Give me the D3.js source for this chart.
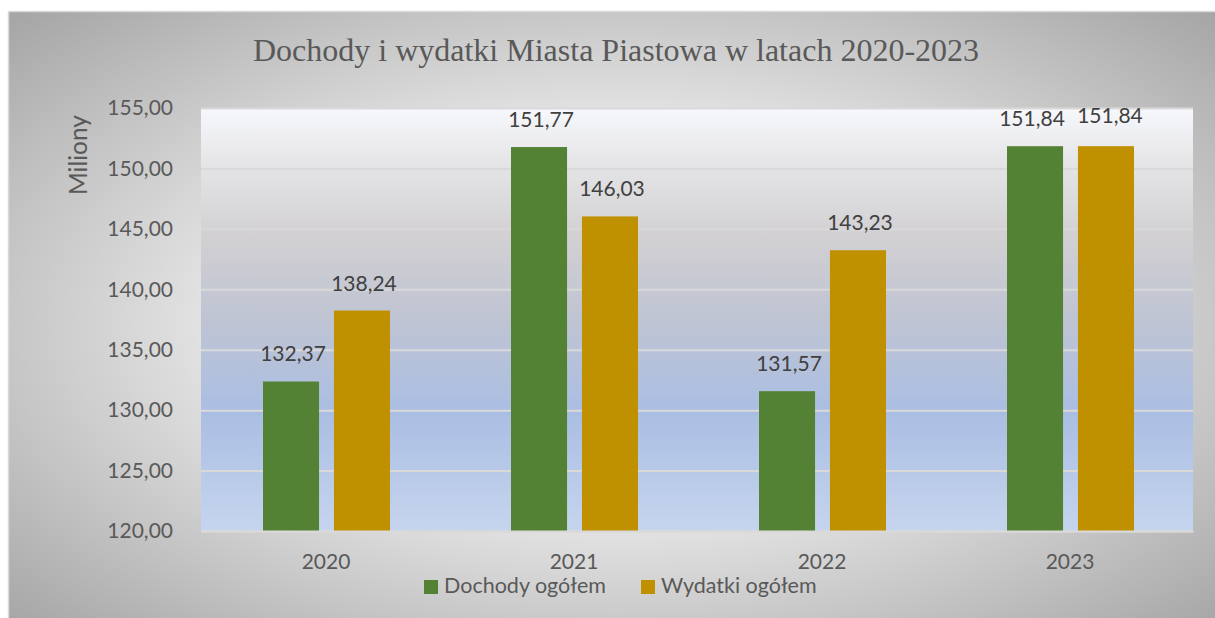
<!DOCTYPE html>
<html>
<head>
  <meta charset="utf-8">
  <title>Dochody i wydatki</title>
  <style>
    html, body { margin: 0; padding: 0; background: #fff; }
    svg { display: block; }
  </style>
</head>
<body>
  <div id="chart"></div>

  <script src="https://cdn.jsdelivr.net/npm/d3@7"></script>
  <script>
    // data
    const years = ['2020', '2021', '2022', '2023'];
    const seriesNames = ['Dochody ogółem', 'Wydatki ogółem'];
    const dochody = [132.37, 151.77, 131.57, 151.84];
    const wydatki = [138.24, 146.03, 143.23, 151.84];
    const yTicks = [120, 125, 130, 135, 140, 145, 150, 155];
    const seriesColors = ['#548235', '#bf9000'];

    const W = 1215, H = 618;
    const plot = { left: 201, right: 1193, top: 108, bottom: 531 };

    const fmt = v => d3.format('.2f')(v).replace('.', ',');

    function translate(x, y) {
      return 'translate(' + x + ',' + y + ')';
    }

    const svg = d3.select('#chart')
      .append('svg')
        .attr('width', W)
        .attr('height', H);

    const defs = svg.append('defs');

    // outer background, radial
    const rg = defs.append('radialGradient')
      .attr('id', 'outerBg')
      .attr('cx', '50%').attr('cy', '50%').attr('r', '72%');
    rg.append('stop').attr('offset', '0%').attr('stop-color', '#f7f7f7');
    rg.append('stop').attr('offset', '45%').attr('stop-color', '#e4e4e4');
    rg.append('stop').attr('offset', '100%').attr('stop-color', '#a2a2a2');

    // plot area gradient, top to bottom
    const lg = defs.append('linearGradient')
      .attr('id', 'plotBg')
      .attr('x1', 0).attr('y1', 0).attr('x2', 0).attr('y2', 1);
    [['0%', '#f7f8fc'], ['14%', '#e4e4e6'], ['30%', '#d2d0d2'], ['50%', '#bfc4d3'],
     ['72%', '#aabee3'], ['100%', '#c6d5ee']].forEach(s => {
      lg.append('stop').attr('offset', s[0]).attr('stop-color', s[1]);
    });

    // chart box
    svg.append('rect')
      .attr('x', 8.5).attr('y', 11.5)
      .attr('width', 1216).attr('height', 620)
      .attr('fill', 'url(#outerBg)')
      .attr('stroke', '#d9d9d9')
      .attr('stroke-width', 1.5);

    // scales
    const x0 = d3.scaleBand()
      .domain(years)
      .range([plot.left, plot.right])
      .paddingInner(0)
      .paddingOuter(0);

    const x1 = d3.scaleBand()
      .domain(seriesNames)
      .range([62, x0.bandwidth() - 59])
      .paddingInner(0.21);

    const y = d3.scaleLinear()
      .domain([120, 155])
      .range([plot.bottom, plot.top]);

    // plot area background
    svg.append('rect')
      .attr('x', plot.left).attr('y', plot.top)
      .attr('width', plot.right - plot.left)
      .attr('height', plot.bottom - plot.top)
      .attr('fill', 'url(#plotBg)');

    // gridlines
    svg.append('g')
      .attr('class', 'grid')
      .attr('transform', translate(plot.left, 0))
      .call(d3.axisLeft(y).tickValues(yTicks).tickSize(-(plot.right - plot.left)).tickFormat(''))
      .call(g => g.select('.domain').remove())
      .call(g => g.selectAll('line').attr('stroke', '#d9d9d9').attr('stroke-width', 2));

    // y axis labels
    svg.append('g')
      .attr('transform', translate(plot.left - 28, 0))
      .call(d3.axisLeft(y).tickValues(yTicks).tickSize(0).tickFormat(fmt))
      .call(g => g.select('.domain').remove())
      .call(g => g.selectAll('text')
        .attr('x', 0)
        .style('font-family', 'Lato, sans-serif')
        .style('font-size', '21px')
        .style('fill', '#595959'));

    // bars
    const rows = years.map((yr, i) => ({ year: yr, vals: [dochody[i], wydatki[i]] }));

    const groups = svg.selectAll('.year')
      .data(rows)
      .enter()
      .append('g')
        .attr('class', 'year')
        .attr('transform', d => translate(x0(d.year), 0));

    groups.selectAll('rect')
      .data(d => d.vals.map((v, j) => ({ name: seriesNames[j], value: v, color: seriesColors[j] })))
      .enter()
      .append('rect')
        .attr('x', d => x1(d.name))
        .attr('width', x1.bandwidth())
        .attr('y', d => y(d.value))
        .attr('height', d => y(120) - y(d.value))
        .attr('fill', d => d.color);

    // data labels (nudged apart when the two labels of a year would collide)
    groups.selectAll('text')
      .data(d => {
        const close = Math.abs(y(d.vals[0]) - y(d.vals[1])) < 20;
        return d.vals.map((v, j) => ({ name: seriesNames[j], value: v, j: j, close: close }));
      })
      .enter()
      .append('text')
        .attr('x', d => x1(d.name) + x1.bandwidth() / 2 + 2 + (d.close ? (d.j === 0 ? -5 : 2) : 0))
        .attr('y', d => y(d.value) - 20 - (d.close && d.j === 1 ? 3 : 0))
        .attr('text-anchor', 'middle')
        .style('font-family', 'Lato, sans-serif')
        .style('font-size', '21px')
        .style('fill', '#404040')
        .text(d => fmt(d.value));

    // x axis
    svg.append('g')
      .attr('transform', translate(0, plot.bottom))
      .call(d3.axisBottom(x0).tickSize(0))
      .call(g => g.select('.domain').attr('stroke', '#d9d9d9').attr('stroke-width', 2))
      .call(g => g.selectAll('text')
        .attr('y', 0)
        .attr('dy', 38)
        .attr('dx', 1)
        .style('font-family', 'Lato, sans-serif')
        .style('font-size', '21px')
        .style('fill', '#595959'));

    // y axis title
    svg.append('text')
      .attr('transform', translate(87, 155) + ' rotate(-90)')
      .attr('text-anchor', 'middle')
      .style('font-family', 'Lato, sans-serif')
      .style('font-size', '24.5px')
      .style('fill', '#595959')
      .text('Miliony');

    // title
    svg.append('text')
      .attr('x', 616)
      .attr('y', 61)
      .attr('text-anchor', 'middle')
      .style('font-family', '"Liberation Serif", "Times New Roman", serif')
      .style('font-size', '32px')
      .style('fill', '#595959')
      .text('Dochody i wydatki Miasta Piastowa w latach 2020-2023');

    // legend
    const legendX = [424, 641];
    const legend = svg.selectAll('.legend')
      .data(seriesNames)
      .enter()
      .append('g')
        .attr('class', 'legend')
        .attr('transform', (d, i) => translate(legendX[i], 580));

    legend.append('rect')
      .attr('width', 14)
      .attr('height', 14)
      .attr('fill', (d, i) => seriesColors[i]);

    legend.append('text')
      .attr('x', 20)
      .attr('y', 13)
      .style('font-family', 'Lato, sans-serif')
      .style('font-size', '21.5px')
      .style('fill', '#595959')
      .text(d => d);
  </script>
</body>
</html>
